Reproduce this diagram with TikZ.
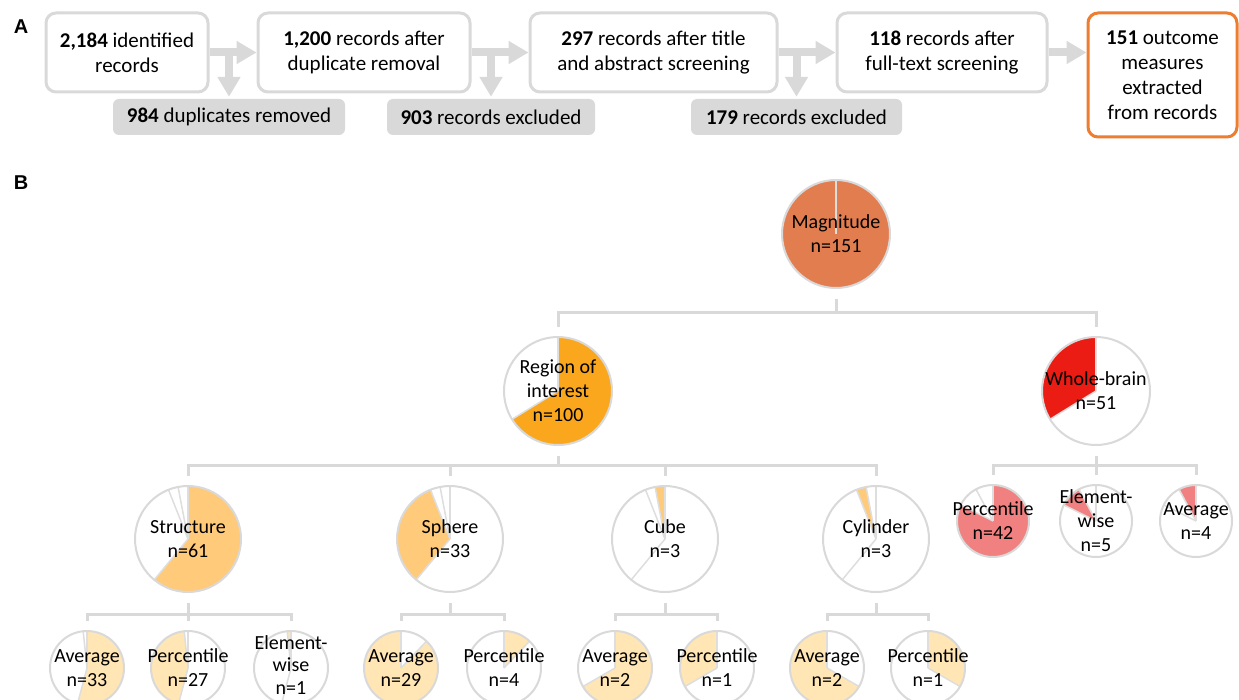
\documentclass[tikz,border=0pt]{standalone}
\usepackage{fontspec}
\setmainfont{Carlito}
\newfontfamily\panelfont{Liberation Sans}
\usetikzlibrary{arrows.meta,calc}
\definecolor{lg}{RGB}{217,217,217}
\definecolor{sl}{RGB}{222,222,222}
\definecolor{obox}{RGB}{237,125,49}
\definecolor{magc}{RGB}{226,125,80}
\definecolor{roic}{RGB}{250,167,30}
\definecolor{wbc}{RGB}{235,28,20}
\definecolor{lvtwo}{RGB}{255,202,122}
\definecolor{lvthree}{RGB}{255,230,180}
\definecolor{wbl}{RGB}{241,128,128}
\newcommand\fa{\fontsize{21}{25}\selectfont}
\newcommand\fp{\fontsize{20}{24}\selectfont}
\newcommand\fq{\fontsize{20}{22.5}\selectfont}
\begin{document}
\begin{tikzpicture}[x=1pt,y=-1pt,
 box/.style={draw=lg,line width=3pt,rounded corners=10pt,fill=white,align=center,font=\fa,inner sep=0pt},
 obx/.style={box,draw=obox},
 exbox/.style={fill=lg,rounded corners=6pt,font=\fa,inner sep=0pt,minimum height=36pt},
 arr/.style={draw=lg,line width=8pt,-{Triangle[length=20pt,width=22pt]}},
 conn/.style={draw=lg,line width=3pt},
 sline/.style={draw=sl,line width=1.5pt},
 ptxt/.style={font=\fp,align=center,inner sep=0pt},
 ptxtc/.style={font=\fq,align=center,inner sep=0pt},
 panel/.style={font=\panelfont\bfseries\fontsize{20}{20}\selectfont,inner sep=0pt},
 pie/.style n args={5}{circle,minimum size=2*#1,inner sep=0pt,outer sep=0pt,fill=white,draw=lg,line width=2pt,
   path picture={\fill[#4] (path picture bounding box.center) -- ++(#2:#1) arc[start angle=#2,end angle=#3,radius=#1] -- cycle;
     \foreach \a in {#5}{\draw[sline] (path picture bounding box.center) -- ++(\a:#1);}}},
]
\useasboundingbox (0,0) rectangle (1239,700);

% ---------- Panel A ----------
\node[panel] (lblA) at (21,27) {A};
\node[panel] (lblB) at (21,183) {B};

\node[box,minimum width=162pt,minimum height=79pt] (b1) at (127,52.5) {\textbf{2,184} identified\\records};
\node[box,minimum width=212pt,minimum height=79pt] (b2) at (364,52.5) {\textbf{1,200} records after\\duplicate removal};
\node[box,minimum width=247pt,minimum height=79pt] (b3) at (653.5,52.5) {\textbf{297} records after title\\and abstract screening};
\node[box,minimum width=210pt,minimum height=79pt] (b4) at (942,52.5) {\textbf{118} records after\\full-text screening};
\node[obx,minimum width=149pt,minimum height=124pt] (b5) at (1162.5,75) {\textbf{151} outcome\\measures\\extracted\\from records};

\node[exbox,minimum width=232pt] (e1) at (229,117) {\textbf{984} duplicates removed};
\node[exbox,minimum width=208pt] (e2) at (491,117) {\textbf{903} records excluded};
\node[exbox,minimum width=211pt] (e3) at (796.5,117) {\textbf{179} records excluded};

\draw[arr] (b1.east) -- (b2.west);
\draw[arr] (b2.east) -- (b3.west);
\draw[arr] (b3.east) -- (b4.west);
\draw[arr] (b4.east) -- (b5.west |- b4.east);
\draw[arr] (e1.north |- b1.east) -- ([yshift=2pt]e1.north);
\draw[arr] (e2.north |- b2.east) -- ([yshift=2pt]e2.north);
\draw[arr] (e3.north |- b3.east) -- ([yshift=2pt]e3.north);

% ---------- Panel B ----------
\node[pie={54pt}{90}{450}{magc}{90}] (mag) at (836,234) {};
\node[ptxt] (magt) at (mag) {Magnitude\\n=151};
\node[pie={54pt}{211.6}{450}{roic}{90,211.6}] (roi) at (558,391) {};
\node[ptxt] (roit) at (roi) {Region of\\interest\\n=100};
\node[pie={54pt}{90}{211.6}{wbc}{90,211.6}] (wb) at (1096,391) {};
\node[ptxt] (wbt) at (wb) {Whole-brain\\n=51};

\node[pie={53pt}{230.4}{450}{lvtwo}{90,100.8,111.6,230.4}] (struct) at (188,539) {};
\node[ptxt] (structt) at (struct) {Structure\\n=61};
\node[pie={53pt}{111.6}{230.4}{lvtwo}{90,100.8,111.6,230.4}] (sphere) at (450,539) {};
\node[ptxt] (spheret) at (sphere) {Sphere\\n=33};
\node[pie={53pt}{90}{100.8}{lvtwo}{90,100.8,111.6,230.4}] (cube) at (665,539) {};
\node[ptxt] (cubet) at (cube) {Cube\\n=3};
\node[pie={53pt}{100.8}{111.6}{lvtwo}{90,100.8,111.6,230.4}] (cyl) at (876,539) {};
\node[ptxt] (cylt) at (cyl) {Cylinder\\n=3};

\node[pie={36pt}{153.5}{450}{wbl}{90,118.2,153.5}] (wbp) at (993,521) {};
\node[ptxt] (wbpt) at (wbp) {Percentile\\n=42};
\node[pie={36pt}{118.2}{153.5}{wbl}{90,118.2,153.5}] (wbe) at (1096,521) {};
\node[ptxt] (wbet) at (wbe) {Element-\\wise\\n=5};
\node[pie={36pt}{90}{118.2}{wbl}{90,118.2,153.5}] (wba) at (1196,521) {};
\node[ptxt] (wbat) at (wba) {Average\\n=4};

\node[pie={37pt}{255.2}{450}{lvthree}{90,95.9,255.2}] (sa) at (87,668) {};
\node[ptxt] (sat) at (sa) {Average\\n=33};
\node[pie={37pt}{95.9}{255.2}{lvthree}{90,95.9,255.2}] (sp) at (188,668) {};
\node[ptxt] (spt) at (sp) {Percentile\\n=27};
\node[pie={37pt}{90}{95.9}{lvthree}{90,95.9,255.2}] (se) at (291,668) {};
\node[ptxtc] (set) at ([yshift=3pt]se.center) {Element-\\wise\\n=1};

\node[pie={37pt}{90}{406.4}{lvthree}{90,46.4}] (spa) at (401,668) {};
\node[ptxt] (spat) at (spa) {Average\\n=29};
\node[pie={37pt}{46.4}{90}{lvthree}{90,46.4}] (spp) at (504,668) {};
\node[ptxt] (sppt) at (spp) {Percentile\\n=4};

\node[pie={37pt}{210}{450}{lvthree}{90,210}] (cua) at (615,668) {};
\node[ptxt] (cuat) at (cua) {Average\\n=2};
\node[pie={37pt}{90}{210}{lvthree}{90,210}] (cup) at (717,668) {};
\node[ptxt] (cupt) at (cup) {Percentile\\n=1};

\node[pie={37pt}{90}{330}{lvthree}{90,330}] (cya) at (827,668) {};
\node[ptxt] (cyat) at (cya) {Average\\n=2};
\node[pie={37pt}{330}{450}{lvthree}{90,330}] (cyp) at (928,668) {};
\node[ptxt] (cypt) at (cyp) {Percentile\\n=1};

% connectors
\coordinate (j1) at (836,313);
\draw[conn] ($(mag.south)+(0,11)$) -- (j1);
\draw[conn] ($(roi.north)+(0,-10)$) |- (j1) -| ($(wb.north)+(0,-10)$);

\coordinate (j2) at (558,465);
\draw[conn] ($(roi.south)+(0,11)$) -- (j2);
\draw[conn] ($(struct.north)+(0,-10)$) |- (j2) -| ($(cyl.north)+(0,-10)$);
\draw[conn] (j2 -| sphere.north) -- ($(sphere.north)+(0,-10)$);
\draw[conn] (j2 -| cube.north) -- ($(cube.north)+(0,-10)$);

\coordinate (j3) at (1096,465);
\draw[conn] ($(wb.south)+(0,11)$) -- (j3);
\draw[conn] ($(wbp.north)+(0,-10)$) |- (j3) -| ($(wba.north)+(0,-10)$);
\draw[conn] (j3) -- ($(wbe.north)+(0,-10)$);

\coordinate (j4) at (188,614);
\draw[conn] ($(struct.south)+(0,11)$) -- (j4);
\draw[conn] ($(sa.north)+(0,-10)$) |- (j4) -| ($(se.north)+(0,-10)$);
\draw[conn] (j4) -- ($(sp.north)+(0,-10)$);

\coordinate (j5) at (450,614);
\draw[conn] ($(sphere.south)+(0,11)$) -- (j5);
\draw[conn] ($(spa.north)+(0,-10)$) |- (j5) -| ($(spp.north)+(0,-10)$);

\coordinate (j6) at (665,614);
\draw[conn] ($(cube.south)+(0,11)$) -- (j6);
\draw[conn] ($(cua.north)+(0,-10)$) |- (j6) -| ($(cup.north)+(0,-10)$);

\coordinate (j7) at (876,614);
\draw[conn] ($(cyl.south)+(0,11)$) -- (j7);
\draw[conn] ($(cya.north)+(0,-10)$) |- (j7) -| ($(cyp.north)+(0,-10)$);
\end{tikzpicture}
\end{document}
